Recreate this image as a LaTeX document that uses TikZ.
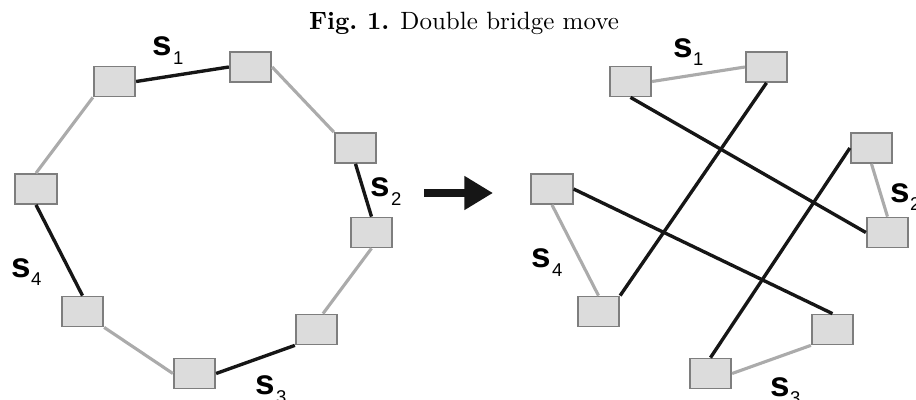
\documentclass[tikz,border=0pt]{standalone}
\usepackage{fontspec}
\newfontfamily\lblfont{Liberation Sans}
\usetikzlibrary{arrows.meta}

\definecolor{boxfill}{HTML}{DCDCDC}
\definecolor{boxline}{HTML}{7E7E7E}
\definecolor{lightedge}{HTML}{ABABAB}
\definecolor{darkedge}{HTML}{161616}

% segment label: bold "s" with a lowered index
\newcommand{\seglabel}[1]{{\lblfont\fontsize{14}{14}\selectfont\bfseries s}\hspace{0.3pt}\raisebox{-3.4pt}{\lblfont\fontsize{7.4}{7.4}\selectfont #1}}

\tikzset{
  city/.style={rectangle, draw=boxline, line width=0.7pt, fill=boxfill,
    minimum width=16.6pt, minimum height=12pt, inner sep=0pt},
  keep/.style={draw=lightedge, line width=1.25pt},
  swap/.style={draw=darkedge, line width=1.35pt},
  seg/.style={anchor=base west, inner sep=0pt, outer sep=0pt},
}

\begin{document}
\begin{tikzpicture}[x=0.4pt, y=-0.4pt]
\useasboundingbox (0,0) rectangle (916,400);

% caption
\node[anchor=base, inner sep=0pt] (cap) at (464,29)
  {\textbf{Fig.~1.} Double bridge move};

% tour before the move
\node[city] (a0) at (36,189) {};
\node[city] (a1) at (114.5,81.5) {};
\node[city] (a2) at (250.5,67) {};
\node[city] (a3) at (355.5,148) {};
\node[city] (a4) at (371.5,232.5) {};
\node[city] (a5) at (316.5,329.5) {};
\node[city] (a6) at (194.5,373.5) {};
\node[city] (a7) at (82.5,311.5) {};

\draw[keep] (a0.north) -- (a1.south west);
\draw[swap] (a1.east) -- (a2.west);
\draw[keep] (a2.east) -- (a3.north west);
\draw[swap] (a3.south) -- (a4.north);
\draw[keep] (a4.south) -- ([xshift=2.6pt]a5.north);
\draw[swap] (a5.south west) -- (a6.east);
\draw[keep] (a6.west) -- (a7.south east);
\draw[swap] (a7.north) -- (a0.south);

\node[seg] (s1a) at (153,56) {\seglabel{1}};
\node[seg] (s2a) at (371,197) {\seglabel{2}};
\node[seg] (s3a) at (256,395) {\seglabel{3}};
\node[seg] (s4a) at (11,277) {\seglabel{4}};

% move arrow
\coordinate (mvA) at (424,193);
\coordinate (mvB) at (493,193);
\draw[darkedge, line width=3.2pt, -{Triangle[length=11.4pt, width=12.8pt]}] (mvA) -- (mvB);

% tour after the move
\node[city] (b0) at (552,189) {};
\node[city] (b1) at (630.5,81.5) {};
\node[city] (b2) at (766.5,67) {};
\node[city] (b3) at (871.5,148) {};
\node[city] (b4) at (887.5,232.5) {};
\node[city] (b5) at (832.5,329.5) {};
\node[city] (b6) at (710.5,373.5) {};
\node[city] (b7) at (598.5,311.5) {};

\draw[keep] (b1.east) -- (b2.west);
\draw[keep] (b3.south) -- (b4.north);
\draw[keep] (b5.south west) -- (b6.east);
\draw[keep] (b7.north) -- (b0.south);
\draw[swap] (b1.south) -- (b4.west);
\draw[swap] (b2.south) -- (b7.north east);
\draw[swap] (b3.west) -- (b6.north);
\draw[swap] (b0.east) -- (b5.north);

\node[seg] (s1b) at (673,57) {\seglabel{1}};
\node[seg] (s2b) at (890,202) {\seglabel{2}};
\node[seg] (s3b) at (770,396) {\seglabel{3}};
\node[seg] (s4b) at (532,268) {\seglabel{4}};
\end{tikzpicture}
\end{document}
